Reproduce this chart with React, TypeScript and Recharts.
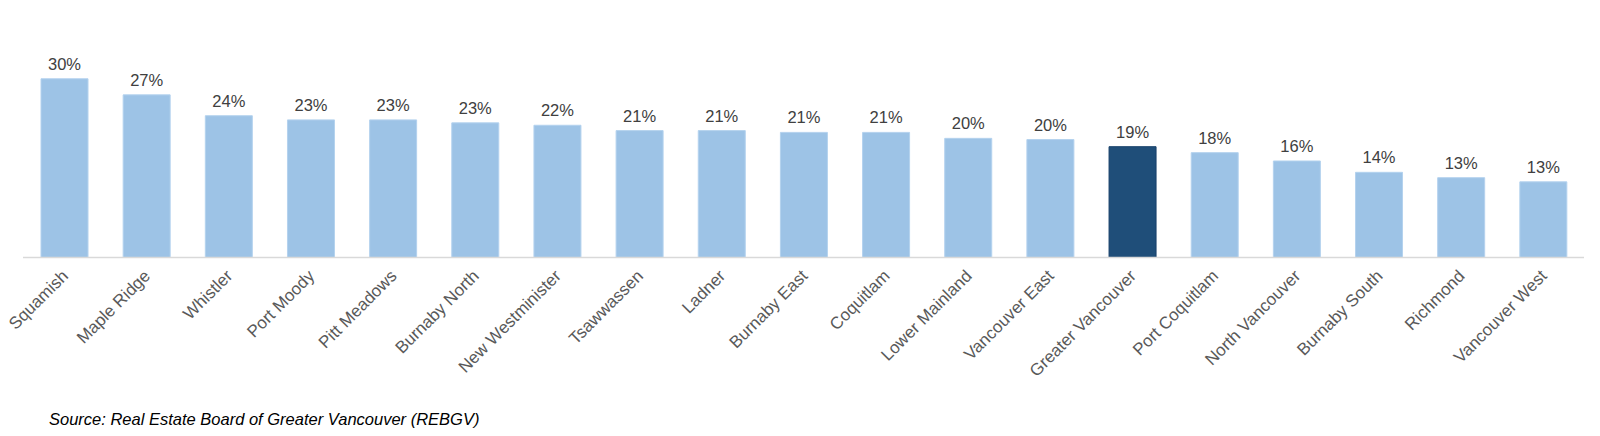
import React from "react";
import { BarChart, Bar, XAxis, YAxis, Cell, LabelList } from "recharts";

const categories = [
  "Squamish", "Maple Ridge", "Whistler", "Port Moody", "Pitt Meadows", "Burnaby North",
  "New Westminister", "Tsawwassen", "Ladner", "Burnaby East", "Coquitlam", "Lower Mainland",
  "Vancouver East", "Greater Vancouver", "Port Coquitlam", "North Vancouver", "Burnaby South",
  "Richmond", "Vancouver West",
];
const values = [
  30.0, 27.3, 23.8, 23.1, 23.1, 22.6, 22.2, 21.3, 21.3, 21.0, 21.0, 20.0, 19.8, 18.6, 17.6,
  16.2, 14.3, 13.4, 12.7,
];
const highlight = "Greater Vancouver";
const sourceText = "Source: Real Estate Board of Greater Vancouver (REBGV)";

const data = categories.map((name, i) => ({ name, value: values[i] }));

const FONT = "'Liberation Sans', Arial, sans-serif";

const RotTick = (props: any) => {
  const { x, y, payload } = props;
  const tx = x + 5;
  const ty = y + 19.5;
  return (
    <text
      x={tx}
      y={ty}
      textAnchor="end"
      transform={`rotate(-45, ${tx}, ${ty})`}
      fontFamily={FONT}
      fontSize={17}
      fill="#595959"
    >
      {payload.value}
    </text>
  );
};

export default function App() {
  return (
    <div style={{ position: "absolute", left: 0, top: 0, width: 1600, height: 436, background: "#fff" }}>
      <BarChart
        width={1600}
        height={436}
        data={data}
        margin={{ top: 49, right: 16, bottom: 0, left: 23 }}
      >
        <XAxis
          dataKey="name"
          interval={0}
          tickLine={false}
          tickSize={0}
          tickMargin={0}
          height={178.5}
          axisLine={{ stroke: "#D9D9D9", strokeWidth: 1.5 }}
          tick={<RotTick />}
        />
        <YAxis hide domain={[0, 35]} />
        <Bar dataKey="value" barSize={47} isAnimationActive={false}>
          {data.map((d) => (
            <Cell
              key={d.name}
              fill={d.name === highlight ? "#1F4E79" : "#9DC3E6"}
              stroke={d.name === highlight ? "#18406A" : "#B4D2EE"}
              strokeWidth={1}
            />
          ))}
          <LabelList
            dataKey="value"
            position="top"
            offset={9}
            formatter={(v: any) => `${Math.round(Number(v))}%`}
            style={{ fontFamily: FONT, fontSize: 16.5, fill: "#404040" }}
          />
        </Bar>
      </BarChart>
      <div
        style={{
          position: "absolute",
          left: 49,
          top: 409,
          fontFamily: FONT,
          fontSize: 16.5,
          fontStyle: "italic",
          color: "#000",
          whiteSpace: "nowrap",
          lineHeight: "20px",
        }}
      >
        {sourceText}
      </div>
    </div>
  );
}
